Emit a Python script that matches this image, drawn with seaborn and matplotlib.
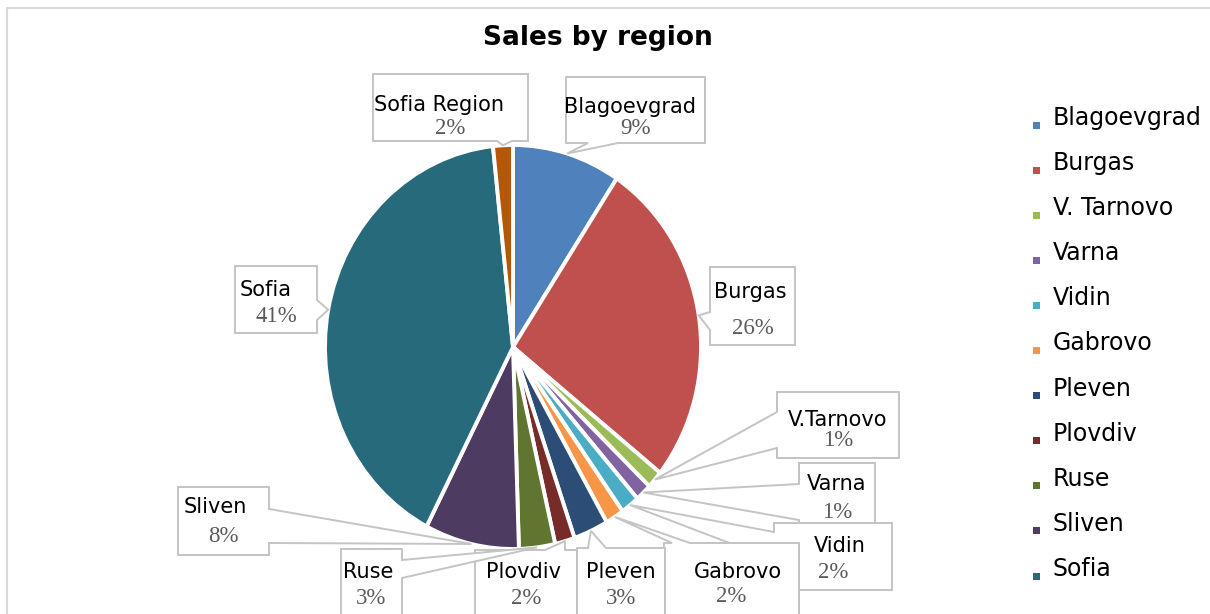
import matplotlib
matplotlib.use("Agg")
import numpy as np
import matplotlib.pyplot as plt
import seaborn as sns
from matplotlib.patches import Polygon, Rectangle

# ---------------- data ----------------
regions = ["Blagoevgrad", "Burgas", "V. Tarnovo", "Varna", "Vidin", "Gabrovo",
           "Pleven", "Plovdiv", "Ruse", "Sliven", "Sofia", "Sofia Region"]
callout_names = ["Blagoevgrad", "Burgas", "V.Tarnovo", "Varna", "Vidin", "Gabrovo",
                 "Pleven", "Plovdiv", "Ruse", "Sliven", "Sofia", "Sofia Region"]
sales_share = [9.3, 26.4, 1.4, 1.4, 1.6, 1.6, 3.0, 1.7, 3.1, 8.1, 40.7, 1.7]
legend_count = 11  # legend in the reference shows the first 11 entries

colors = ["#4F81BD", "#C0504D", "#9BBB59", "#8064A2", "#4BACC6", "#F79646",
          "#2C4D75", "#772C2A", "#5F7530", "#4D3B62", "#276A7C", "#B65708"]

# ---------------- style ----------------
sns.set_theme(style="white")
plt.rcParams["font.family"] = ["DejaVu Sans"]
palette = sns.color_palette(colors)

W, H = 1210, 614
fig = plt.figure(figsize=(W / 100, H / 100), dpi=100)
fig.patch.set_facecolor("white")
ax = fig.add_axes([0, 0, 1, 1])

# pie geometry in pixels (slightly elliptical like the reference)
CX, CY, RX, RY = 513, 347, 188, 202


def d(px, py):
    return ((px - CX) / RX, (CY - py) / RY)


wedges, _ = ax.pie(sales_share, colors=palette, startangle=90, counterclock=False,
                   radius=1, center=(0, 0),
                   wedgeprops=dict(edgecolor="white", linewidth=2.8, joinstyle="miter"))
ax.set_xlim(d(0, 0)[0], d(W, 0)[0])
ax.set_ylim(d(0, H)[1], d(0, 0)[1])
ax.set_aspect("auto")
ax.axis("off")

total = float(np.sum(sales_share))
cum = np.cumsum([0] + sales_share[:-1])
mid_theta = 2 * np.pi * (cum + np.array(sales_share) / 2) / total

# ---------------- callouts ----------------
# (x0, y0, x1, y1) box in px, tail side, tail base (px), name y, pct y, name dx
layout = [
    ((566, 77, 705, 143), "bottom", 588, 618, 107, 129, -6),
    ((710, 267, 795, 345), "left", 312, 330, 292, 328, -2),
    ((777, 392, 899, 458), "left", 412, 448, 420, 441, 0),
    ((799, 463, 875, 530), "left", 484, 520, 484, 513, 0),
    ((774, 523, 892, 590), "left", 532, 560, 546, 572, 7),
    ((664, 543, 799, 640), "top", 672, 690, 572, 597, 6),
    ((577, 548, 665, 640), "top", 588, 606, 572, 599, 0),
    ((475, 550, 577, 640), "top", 545, 565, 572, 599, -3),
    ((341, 549, 402, 640), "right", 560, 578, 572, 599, -3),
    ((178, 487, 269, 555), "right", 509, 543, 507, 537, -8),
    ((235, 266, 317, 333), "right", 300, 320, 290, 316, -10),
    ((373, 74, 528, 141), "bottom", 497, 512, 105, 128, -11),
]

edge_col = "#c4c4c4"
for i, (box, side, b1, b2, ny, py, ndx) in enumerate(layout):
    x0, y0, x1, y1 = box
    th = mid_theta[i]
    tip = (np.sin(th), np.cos(th))  # data coords on the pie rim
    TL, TR, BR, BL = d(x0, y0), d(x1, y0), d(x1, y1), d(x0, y1)
    if side == "top":
        pts = [TL, d(b1, y0), tip, d(b2, y0), TR, BR, BL]
    elif side == "right":
        pts = [TL, TR, d(x1, b1), tip, d(x1, b2), BR, BL]
    elif side == "bottom":
        pts = [TL, TR, BR, d(b2, y1), tip, d(b1, y1), BL]
    else:
        pts = [TL, TR, BR, BL, d(x0, b2), tip, d(x0, b1)]
    ax.add_patch(Polygon(pts, closed=True, facecolor="white", edgecolor=edge_col,
                         linewidth=1.4, joinstyle="miter", zorder=10 + 2 * i,
                         clip_on=False))
    cx = (x0 + x1) / 2
    ax.text(*d(cx + ndx, ny), callout_names[i], ha="center", va="center", fontsize=15,
            color="black", family="DejaVu Sans", zorder=11 + 2 * i)
    ax.text(*d(cx, py), f"{sales_share[i] / total * 100:.0f}%", ha="center",
            va="center", fontsize=16.5, color="#5a5a5a", family="Liberation Serif",
            zorder=11 + 2 * i)

# ---------------- title ----------------
fig.text(598 / W, 1 - 38 / H, "Sales by region", ha="center", va="center",
         fontsize=19, fontweight="bold", color="black")

# ---------------- legend ----------------
for i in range(legend_count):
    yb = 125 + 45.1 * i
    fig.add_artist(Rectangle(((1036 - 3.5) / W, 1 - (yb + 3.5) / H), 7 / W, 7 / H,
                             transform=fig.transFigure, facecolor=palette[i],
                             edgecolor="none"))
    fig.text(1053 / W, 1 - yb / H, regions[i], ha="left", va="baseline",
             fontsize=17, color="black")

# ---------------- chart border ----------------
fig.add_artist(Rectangle((7 / W, -10 / H), (W + 20) / W, (H + 10 - 8) / H,
                         transform=fig.transFigure, facecolor="none",
                         edgecolor="#d9d9d9", linewidth=1.5))

fig.savefig("out.png", dpi=100, facecolor="white")
